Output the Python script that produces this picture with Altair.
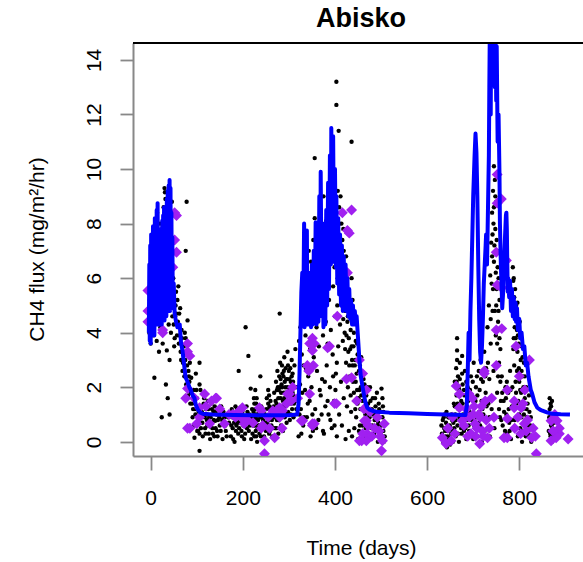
import altair as alt
import pandas as pd

# ---------------- data ----------------
# tick values
x_ticks = [0, 200, 400, 600, 800]
y_ticks = [0, 2, 4, 6, 8, 10, 12, 14]
title_text = ["Abisko"]

# black observation points (day, flux)
black_s1_peak = [(-3,4.0),(-2,5.2),(-1,6.1),(0,3.6),(1,7.0),(2,4.6),(3,5.5),(4,6.4),(5,3.9),(6,7.6),
    (7,5.0),(8,2.35),(9,6.8),(10,4.4),(11,7.9),(12,5.8),(13,3.7),(14,8.4),(15,6.3),(16,4.9),(17,7.2),
    (18,3.3),(19,5.6),(20,8.0),(21,4.2),(22,6.9),(24,0.9),(24,5.3),(25,7.8),(26,3.6),(27,6.0),(28,8.6),
    (29,4.6),(30,9.3),(31,9.15),(32,8.9),(33,2.1),(33,5.1),(34,7.4),(35,3.35),(36,6.5),(37,1.6),(38,8.2),
    (39,4.3),(40,9.0),(41,1.0),(41,3.0),(42,5.8),(43,7.6),(44,4.0),(45,6.8),(46,8.8),(47,4.6),(48,5.4),
    (50,4.3),(52,3.8),(54,5.0),(56,4.7),(58,5.2)]
black_s1_fall = [(62,4.7),(63,3.9),(65,3.3),(67,4.1),(70,2.9),(72,3.5),(74,4.0),(76,3.8),(76,7.0),(78,8.8),
    (80,4.45),(80,3.35),(82,2.6),(84,2.2),(85,2.9),(87,1.8),(88,2.35),(90,1.4),(91,0.9),(93,1.9),(95,0.15),
    (96,1.2),(98,2.5),(98,0.65),(100,1.6),(102,0.9),(104,1.1),(106,2.9),(106,2.1),(106,0.3),(106,-0.33),
    (108,1.9),(110,1.3),(112,0.7),(114,1.0),(116,1.6),(118,0.5),(120,1.2),(122,0.8),(124,1.5),(126,0.3),
    (128,1.5),(130,0.9),(132,1.4),(134,0.5),(136,1.1),(138,0.2),(140,0.77),(142,1.14),(144,0.4),(146,0.8),
    (49,6.0),(51,3.5),(53,4.6),(55,5.5),(57,3.9),(59,4.4),(60,5.7),(61,3.6),(64,4.9),(66,3.0),(68,3.8),
    (69,2.6),(71,3.2),(73,2.4),(75,3.0),(77,2.1),(79,2.8),(81,1.7),(83,2.4),(86,1.4),(89,1.9),(92,1.2),
    (94,0.6),(97,1.0),(99,1.9),(103,0.4)]
black_trough = [(150,0.6),(153,1.3),(156,0.1),(160,0.9),(163,0.4),(166,1.0),(170,0.7),(174,0.2),(176,1.2),
    (178,0.5),(180,0.9),(182,0.0),(184,1.3),(186,0.6),(188,1.0),(190,0.3),(191,2.6),(193,0.8),(195,1.2),
    (197,0.4),(200,0.9),(203,0.1),(206,4.2),(207,0.7),(210,1.1),(212,3.15),(213,0.4),(216,0.8),(217,1.95),
    (218,0.1),(220,1.2),(222,0.6),(224,1.6),(225,0.2),(226,1.0),(227,1.9),(228,0.4),(229,1.4),(230,0.8),
    (231,0.0),(232,1.2),(234,0.6),(236,0.3),(238,2.4),(238,0.9),(240,1.3),(242,0.5),(244,0.8),(246,0.2),
    (248,1.0),(250,0.4),(252,1.6),(253,0.7),(255,1.9),(256,1.2),(257,0.3),(258,0.9),(260,1.5),(262,0.6),
    (264,0.2),(266,1.1),(268,1.8),(270,0.5),(272,2.2),(273,1.4),(274,0.8),(275,2.6),(276,1.2),(277,0.3),
    (278,1.9),(279,2.4),(280,4.7),(280,1.0),(281,2.9),(282,1.6),(283,0.6),(284,2.1),(285,2.8),(286,1.3),
    (287,0.4),(288,2.4),(289,1.8),(290,3.1),(291,0.9),(292,2.0),(293,2.7),(294,1.5),(295,0.7),(296,2.3),
    (297,3.3),(298,1.1),(300,2.6),(301,1.9),(302,0.8),(304,2.2),(305,1.4),(306,3.0),(308,2.5),(310,1.7),
    (312,2.8),(314,3.4),(316,1.2),(318,2.0)]
black_trough_more = [(101,0.4),(103,1.3),(105,0.8),(109,0.5),(111,1.1),(113,0.2),(115,1.4),(117,0.9),
    (119,0.3),(121,1.0),(123,0.6),(125,1.2),(127,0.9),(129,0.1),(131,0.7),(133,1.2),(135,0.3),(137,0.8),
    (139,1.3),(141,0.5),(143,1.0),(145,0.2),(147,1.2),(149,0.9),(152,0.4),(155,0.8),(158,1.1),(162,0.6),
    (165,0.2),(168,0.9),(172,1.1),(175,0.6),(177,0.9),(179,0.1),(181,0.7),(183,1.0),(185,0.4),(187,1.2),
    (189,0.7),(192,0.5),(194,1.0),(196,0.7),(198,0.2),(199,1.1),(201,0.6),(204,0.9),(205,0.3),(208,1.3),
    (209,0.5),(211,0.8),(214,1.0),(215,0.6),(219,0.9),(221,0.3),(223,1.1),(225,1.4),(226,0.6),(227,1.2),
    (228,0.9),(229,0.2),(230,1.6),(231,1.0),(232,0.5),(233,0.8),(235,1.1),(237,0.6),(239,0.2),(241,0.9),
    (243,1.1),(245,0.6),(247,1.0),(249,0.7),(251,1.2),(254,0.5),(255,1.4),(256,0.8),(257,1.7),(258,1.3),
    (259,0.4),(261,1.0),(263,0.8),(265,0.5),(267,1.3),(269,0.9),(271,1.5),(273,0.5),(274,1.9),(275,1.0),
    (276,2.0),(277,1.6),(278,0.8),(279,1.3),(280,2.0),(281,1.2),(282,2.3),(283,1.8),(284,1.0),(285,2.0),
    (286,2.5),(287,1.5),(288,1.1),(289,2.6),(290,1.6),(291,2.2),(292,1.3),(293,1.8),(294,2.3),(295,1.1),
    (296,1.7),(297,2.0),(298,2.8),(299,1.4),(300,1.0),(301,2.3),(302,1.5),(303,2.7),(304,1.0),(305,1.9),
    (306,2.4),(307,1.2),(308,1.8),(309,2.2),(310,0.9),(311,1.4),(313,2.0),(315,1.5)]
black_s2 = [(322,3.7),(324,2.1),(325,4.2),(326,1.2),(328,3.2),(330,4.6),(331,0.6),(332,2.8),(334,5.5),
    (335,1.9),(336,3.9),(338,6.2),(339,0.9),(340,4.8),(342,2.4),(343,7.0),(344,5.6),(345,1.5),(346,3.4),
    (348,6.6),(349,2.0),(350,4.9),(352,0.4),(353,7.4),(354,3.1),(355,5.8),(356,10.4),(356,8.2),(357,1.2),
    (358,6.8),(360,4.2),(361,2.6),(362,7.9),(363,5.1),(364,0.8),(365,3.5),(366,6.3),(368,8.4),(369,1.7),
    (370,4.7),(371,5.9),(372,2.3),(373,7.2),(374,3.9),(375,9.0),(376,0.3),(377,5.4),(378,6.9),(379,1.3),
    (380,4.4),(381,8.1),(382,2.8),(383,6.0),(384,3.6),(385,7.5),(386,1.0),(387,5.2),(388,9.4),(389,2.0),
    (390,6.6),(391,4.1),(392,8.6),(393,0.5),(394,7.0),(395,3.2),(396,5.7),(397,9.6),(398,1.5),(399,6.4),
    (400,4.6),(401,8.9),(402,2.5),(403,13.2),(403,12.35),(403,7.7),(404,0.2),(405,5.0),(406,9.2),(407,3.5),
    (408,11.4),(408,6.9),(409,1.0),(410,8.0),(411,4.3),(412,7.2),(413,2.2),(414,5.6),(415,0.6),(416,6.5),
    (417,3.7),(418,7.8),(419,1.6),(420,5.2),(421,4.0),(422,6.1),(423,0.1),(424,2.9),(425,5.5),(426,1.3),
    (428,4.6),(429,3.3),(430,0.4),(431,5.0),(432,2.4),(434,4.1),(435,1.1),(436,11.0),(436,3.5),(437,0.2),
    (438,2.8),(440,4.5),(441,1.8),(442,0.5),(444,3.0),(445,2.2),(446,0.9),(448,3.6),(449,1.4),(450,0.1),
    (452,2.6),(453,1.9),(454,0.6),(456,2.0),(457,3.1),(458,0.3),(460,1.5),(461,0.0),(462,2.3),(464,0.8),
    (465,1.2),(466,0.2),(468,1.7),(470,0.5)]
black_s2_more = [(321,0.2),(323,1.0),(327,0.3),(329,1.8),(333,0.9),(337,2.7),(341,1.4),(347,0.2),(351,1.0),
    (359,0.5),(367,1.9),(371,1.0),(374,0.4),(378,2.2),(384,1.5),(390,0.8),(396,2.4),(399,0.6),(401,1.9),
    (404,2.9),(406,6.0),(407,7.5),(409,8.6),(410,5.8),(411,7.0),(412,9.0),(413,6.2),(414,8.0),(415,5.0),
    (416,7.4),(417,6.0),(418,4.5),(419,7.0),(420,6.3),(421,5.5),(422,3.4),(423,4.8),(424,6.8),(425,3.9),
    (426,5.9),(427,4.4),(428,2.0),(429,5.3),(430,3.8),(431,2.8),(432,4.9),(433,3.4),(434,1.7),(435,4.6),
    (436,6.0),(437,3.0),(438,5.2),(439,2.2),(440,3.5),(441,4.0),(443,2.8),(444,1.2),(445,3.7),(447,2.5),
    (448,1.9),(449,3.2),(451,1.6),(452,0.4),(454,2.8),(455,1.2),(456,0.0),(457,1.7),(459,2.5),(460,0.6),
    (462,1.2),(463,0.3),(464,2.1),(466,1.0),(467,0.5),(469,1.3),(470,2.0),(471,0.2),(473,0.9),(477,1.5),
    (479,0.5),(483,1.0),(485,0.3),(487,1.6),(492,0.6),(496,1.2),(499,0.3),(503,1.6),(505,1.1),(507,0.7),
    (508,0.2)]
black_s2_tail = [(472,1.4),(474,0.3),(475,0.9),(476,2.0),(478,0.1),(480,1.2),(481,0.6),(482,1.6),(484,0.2),
    (486,0.8),(488,1.3),(489,0.4),(490,1.0),(491,1.8),(493,0.0),(494,0.7),(495,1.4),(497,0.3),(498,1.1),
    (500,0.6),(501,1.95),(502,0.2),(503,0.9),(504,1.3),(505,0.4),(506,0.0)]
black_s3_early = [(632,0.3),(634,0.8),(635,0.0),(637,0.5),(638,1.0),(640,0.2),(641,0.7),(643,-0.2),(644,0.4),
    (646,0.9),(647,0.1),(649,0.6),(650,-0.1),(652,0.3),(654,0.8),(656,0.0),(658,1.4),(659,0.5),(660,2.2),
    (661,1.0),(662,0.2),(663,2.7),(664,1.7),(665,3.8),(665,3.35),(665,3.0),(666,0.6),(667,2.4),(668,1.2),
    (669,0.0),(670,1.9),(671,2.9),(672,0.8),(674,1.5),(675,0.3),(676,3.15),(677,2.1),(678,1.0),(680,0.4),
    (681,1.7),(682,2.6),(684,0.9),(685,0.1),(686,1.3),(688,2.0),(690,0.6)]
black_s3_peak = [(692,1.1),(694,0.3),(695,2.4),(697,0.8),(698,1.6),(700,0.1),(701,2.9),(703,1.3),(704,0.5),
    (706,2.0),(707,0.9),(709,1.7),(710,0.2),(712,2.6),(713,1.1),(715,0.6),(716,3.0),(718,1.5),(719,0.0),
    (721,2.2),(722,1.0),(724,3.3),(725,0.4),(727,1.8),(728,2.7),(730,0.8),(731,4.2),(733,1.4),(734,5.0),
    (735,2.3),(736,0.2),(737,6.1),(738,3.6),(739,7.3),(740,1.2),(741,8.4),(742,4.8),(743,9.2),(744,2.6),
    (745,10.1),(745,6.6),(746,0.5),(747,9.6),(748,7.8),(749,3.9),(750,8.8),(751,5.6),(752,1.8),(753,7.0),
    (754,4.4),(755,6.0),(756,2.9),(757,5.2),(758,0.9),(759,3.4),(760,1.5)]
black_s3_fall = [(762,2.4),(764,0.6),(766,1.5),(768,0.2),(770,2.0),(772,1.0),(774,0.3),(776,1.8),(778,0.7),
    (780,2.6),(782,0.1),(784,1.3),(786,6.4),(787,5.9),(788,3.8),(789,5.3),(790,0.8),(791,4.6),(792,2.2),
    (793,5.0),(794,1.4),(795,4.1),(796,3.3),(797,0.2),(798,4.5),(799,2.7),(800,1.0),(801,3.9),(802,0.5),
    (803,3.0),(804,1.8),(805,3.5),(806,0.0),(807,2.4),(808,1.2),(810,2.9),(811,0.6),(812,1.6),(814,0.2),
    (815,2.0),(817,0.9),(818,1.4),(820,0.3),(822,1.1),(824,0.6),(826,0.0),
    (864,0.4),(866,1.6),(866,1.2),(867,0.8),(868,0.2),(868,1.4),(869,0.6),(870,1.0),(871,0.0),(872,0.5),
    (874,0.9),(876,0.3)]
black_s3_more = [(631,0.6),(633,0.1),(636,0.9),(639,0.4),(642,1.1),(645,0.2),(648,0.9),(651,0.5),(653,1.0),
    (655,0.4),(657,0.7),(660,1.3),(662,0.8),(664,2.2),(666,1.4),(667,0.3),(668,2.0),(670,0.9),(671,2.3),
    (673,1.3),(674,0.5),(676,2.5),(677,1.4),(679,0.7),(680,1.9),(682,1.2),(683,0.5),(685,2.2),(687,0.8),
    (689,1.5),(691,0.4),(693,1.9),(696,0.9),(699,2.2),(702,0.6),(705,1.5),(708,2.4),(711,0.7),(714,1.9),
    (717,2.3),(720,1.2),(723,0.2),(726,2.4),(729,1.3),(732,2.9),(735,0.9),(738,4.5),(740,5.8),(741,6.8),
    (742,7.6),(743,5.6),(744,8.0),(745,8.6),(746,7.2),(747,4.8),(748,9.0),(749,6.2),(750,5.0),(751,7.4),
    (752,3.6),(753,6.4),(754,2.4),(755,4.8),(756,1.2),(757,3.8),(759,2.2),(761,0.8),(763,1.8),(767,1.1),
    (769,0.4),(771,1.6),(773,2.2),(775,0.8),(777,1.2),(779,0.4),(781,1.9),(783,0.8),(785,2.0),(786,4.9),
    (787,3.4),(788,6.0),(789,2.8),(790,4.2),(791,5.6),(792,3.8),(793,1.8),(794,4.8),(795,2.6),(796,5.1),
    (797,3.9),(798,1.5),(799,3.6),(800,2.2),(801,4.4),(802,1.9),(803,3.8),(804,0.9),(805,2.6),(806,1.3),
    (807,3.1),(808,0.4),(809,2.0),(810,1.0),(812,2.4),(813,0.8),(816,1.2),(819,0.6),(821,1.7),(823,0.2),
    (825,0.9),(865,0.9),(867,0.3),(869,1.3),(870,0.6),(871,1.5),(873,0.2),(875,0.7)]

# purple diamonds (day, flux)
purple_s1 = [(-6,4.8),(-6,5.55),(-6,4.4),(26,4.0),(26,4.1),(48,6.4),(52,8.4),(52,7.4),(56,8.3),(56,6.95),
    (80,3.6),(80,3.3),(85,3.15),(76,1.6),(80,1.95),(95,1.6),(117,1.75),(141,1.6),(143,1.6),(85,0.5),(80,0.5),
    (106,0.9),(106,1.25),(100,0.66),(128,0.66),(160,0.66),(184,0.9),(186,1.03),(199,0.85),(199,1.25),
    (193,1.14),(178,1.0),(203,0.66),(236,1.25),(240,1.14),(240,0.5),(243,0.6),(247,0.04),(247,-0.44),
    (265,1.14),(269,0.15),(273,1.14),(280,1.25),(280,0.9),(285,0.5),(286,1.14),(295,1.4),(297,1.75),
    (301,1.75),(305,1.5),(308,2.0),(319,1.6),(120,1.3),(132,1.5),(150,1.2),(170,1.0),(210,0.8),(222,0.7),
    (255,0.9),(258,0.5)]
purple_s2 = [(327,0.77),(330,0.77),(340,2.8),(345,3.6),(345,1.75),(343,2.6),(351,3.8),(355,3.6),(351,3.35),
    (353,2.8),(351,0.66),(351,0.6),(355,0.66),(384,3.45),(388,3.5),(399,1.4),(403,1.4),(405,4.6),(416,8.4),
    (427,7.75),(425,2.3),(431,7.65),(436,8.5),(427,6.2),(436,2.35),(447,1.5),(453,3.0),(453,0.04),(460,2.5),
    (464,0.77),(468,1.9),(468,0.77),(468,0.04),(470,0.3),(496,0.4),(501,-0.33),(503,0.04),(507,0.66),
    (458,0.04),(460,0.3),(463,1.2),(472,0.6),(476,1.1),(480,0.2),(486,0.5),(492,0.9),(498,0.2)]
purple_s3 = [(633,0.15),(641,-0.07),(652,0.04),(663,2.05),(670,1.25),(670,1.75),(676,0.77),(691,1.75),
    (691,0.9),(698,1.6),(704,0.66),(714,-0.07),(715,0.9),(724,2.6),(724,2.5),(731,0.15),(750,4.1),(750,2.8),
    (752,5.75),(750,6.95),(752,8.75),(752,9.8),(761,8.9),(762,5.65),(762,4.15),(767,0.15),(772,6.65),
    (774,1.9),(774,0.85),(774,0.15),(789,1.5),(789,1.25),(793,3.5),(800,2.4),(804,1.25),(808,1.4),
    (811,0.66),(815,0.4),(822,3.0),(827,0.15),(837,-0.44),(869,0.77),(869,0.04),(880,0.15),(887,0.3),
    (887,0.5),(882,0.77),(906,0.1),(695,0.3),(700,1.0),(705,0.2),(718,1.3),(720,0.4),(728,0.8),
    (645,0.5),(655,0.9),(660,0.3),(680,0.6),(685,1.2),(688,0.2),(702,1.3),(708,0.5),(712,1.0),(722,0.2),
    (726,1.5),(735,0.5),(740,1.6),(745,0.9),(790,0.5),(797,0.9),(803,0.3),(812,1.9),(818,0.8),(830,0.5),
    (835,0.2),(873,0.4),(877,1.0)]

# blue model line (day, flux), in drawing order
model_s1 = [(-4,4.0),(-3,6.5),(-2,3.7),(-1,7.2),(0,3.6),(1,7.6),(2,4.4),(3,6.8),(4,4.0),(5,7.9),(6,4.6),
    (7,7.4),(8,3.9),(9,8.2),(10,4.5),(11,7.0),(12,4.3),(13,8.5),(14,5.0),(15,8.75),(16,4.8),(17,7.2),
    (18,4.3),(19,6.9),(20,4.4),(21,7.5),(22,4.6),(23,7.8),(24,4.3),(25,8.1),(26,4.5),(27,8.3),(28,4.6),
    (29,8.6),(30,4.45),(31,7.6),(32,4.8),(33,8.0),(34,4.6),(35,8.9),(36,4.8),(37,9.2),(38,4.9),(39,9.4),
    (40,5.0),(41,9.6),(42,4.8),(43,9.3),(44,5.2),(45,8.4),(46,4.9),(47,7.5),(48,5.2),(50,5.8),(52,4.7),
    (55,4.4),(58,4.2),(63,4.3),(66,3.6),(69,3.35),(72,2.9),(76,2.35),(80,2.2),(84,2.0),(87,1.9),(91,1.7),
    (95,1.6),(98,1.35),(102,1.2),(107,1.08),(113,1.03),(134,1.0),(180,0.98),(250,0.97),(300,0.97)]
model_s2 = [(318,1.0),(321,1.4),(323,2.5),(325,4.0),(327,5.5),(329,6.2),(331,4.5),(333,8.0),(334,4.2),
    (336,7.6),(337,4.3),(339,7.75),(340,4.3),(342,5.5),(344,4.3),(346,6.2),(348,4.2),(350,6.5),(352,4.3),
    (354,7.0),(356,4.4),(358,8.05),(360,4.3),(362,7.0),(364,4.4),(366,9.0),(368,4.6),(369,9.9),(371,5.4),
    (373,7.2),(375,4.2),(377,8.0),(379,4.3),(381,8.5),(383,5.0),(385,9.5),(387,5.6),(389,10.5),(391,6.5),
    (392,11.5),(394,7.0),(396,11.2),(398,6.6),(400,10.0),(402,6.4),(403,9.0),(405,5.8),(407,8.2),(409,5.4),
    (411,7.6),(413,5.0),(415,7.2),(417,4.8),(419,6.8),(421,5.2),(423,6.5),(425,4.8),(427,6.0),(429,4.6),
    (431,5.6),(433,4.5),(435,5.2),(437,4.3),(439,5.0),(441,4.3),(443,4.8),(445,4.4),(447,4.6),(450,3.8),
    (453,3.0),(456,2.4),(460,2.0),(463,1.7),(466,1.45),(470,1.25),(475,1.18),(481,1.14),(490,1.1),
    (518,1.07),(560,1.05),(600,1.02),(640,1.0),(683,0.98)]
model_s3 = [(686,1.3),(688,2.5),(690,4.0),(692,3.0),(694,4.8),(696,6.0),(698,7.5),(700,9.0),(703,10.5),
    (705,11.3),(707,10.6),(709,9.0),(711,6.5),(713,4.5),(715,3.3),(717,2.9),(719,3.5),(721,4.5),(723,5.8),
    (725,6.5),(727,7.2),(728,7.6),(730,6.5),(732,8.5),(734,10.5),(735,13.0),(736,15.0),(738,12.0),(739,15.5),
    (741,13.5),(742,15.5),(744,14.0),(745,15.5),(747,13.0),(748,15.5),(750,12.5),(751,14.5),(753,11.0),
    (755,12.0),(757,9.85),(758,8.0),(760,6.5),(762,5.5),(763,4.9),(765,5.5),(767,6.5),(769,7.5),(771,8.3),
    (772,8.4),(773,7.8),(774,6.5),(775,5.5),(776,6.0),(778,5.3),(780,5.9),(782,4.8),(784,5.6),(786,4.6),
    (788,5.3),(790,4.5),(792,5.1),(793,4.4),(795,4.9),(797,4.1),(800,4.5),(802,3.8),(805,4.0),(808,3.4),
    (811,3.5),(814,2.8),(817,2.9),(820,2.4),(822,2.2),(825,1.9),(828,1.76),(833,1.45),(839,1.25),
    (845,1.18),(850,1.14),(860,1.08),(871,1.03),(890,1.01),(910,1.0)]

# ---------------- tables ----------------
black = pd.DataFrame(black_s1_peak + black_s1_fall + black_trough + black_trough_more + black_s2
                     + black_s2_more + black_s2_tail + black_s3_early + black_s3_peak + black_s3_fall
                     + black_s3_more, columns=["day", "flux"])
purple = pd.DataFrame(purple_s1 + purple_s2 + purple_s3, columns=["day", "flux"])
model = pd.DataFrame(model_s1 + model_s2 + model_s3, columns=["day", "flux"])
model["i"] = range(len(model))

FONT = "Liberation Sans"
W, H = 450, 413
xscale = alt.Scale(domain=[-38.4, 938.3], nice=False, zero=False)
yscale = alt.Scale(domain=[-0.52, 14.62], nice=False, zero=False)

xaxis = alt.Axis(values=x_ticks, title="Time (days)", grid=False, tickSize=14, tickWidth=1.8,
                 domainWidth=2, labelPadding=34, labelBaseline="alphabetic", labelFontSize=21,
                 titleFontSize=21, titleFontWeight="normal", titleX=228, titleY=98,
                 titleBaseline="alphabetic", titleAlign="center", labelFlush=False)
yaxis = alt.Axis(values=y_ticks, title="CH4 flux (mg/m²/hr)", grid=False, tickSize=13, tickWidth=1.8,
                 domainWidth=2, labelPadding=20, labelAngle=270, labelAlign="center",
                 labelBaseline="alphabetic", labelFontSize=21, titleFontSize=21,
                 titleFontWeight="normal", titleAngle=270, titleX=-90, titleY=206,
                 titleBaseline="alphabetic", titleAlign="center", labelFlush=False)

x_enc = alt.X("day:Q", scale=xscale, axis=xaxis)
y_enc = alt.Y("flux:Q", scale=yscale, axis=yaxis)

pts = alt.Chart(black).mark_point(filled=True, shape="circle", size=19, color="black",
                                  opacity=1, clip=True).encode(x=x_enc, y=y_enc)
dia = alt.Chart(purple).mark_point(filled=True, shape="diamond", size=120, color="#A020F0",
                                   opacity=1, clip=True).encode(x=x_enc, y=y_enc)
line = alt.Chart(model).mark_line(color="#0000FF", strokeWidth=4, clip=True,
                                  strokeJoin="round").encode(x=x_enc, y=y_enc, order="i:Q")
top = alt.Chart(pd.DataFrame({"a": [0]})).mark_rule(color="black", strokeWidth=2).encode(
    x=alt.value(0), x2=alt.value(W), y=alt.value(0))
title = alt.Chart(pd.DataFrame({"t": title_text})).mark_text(
    font=FONT, fontSize=27, fontWeight="bold", baseline="alphabetic", align="center", color="black"
).encode(text="t:N", x=alt.value(228), y=alt.value(-16))

chart = alt.layer(pts, dia, line, top, title).properties(
    width=W, height=H,
    autosize=alt.AutoSizeParams(type="none"),
    padding={"left": 133, "top": 43, "right": 0, "bottom": 106},
).configure_view(stroke=None).configure_axis(
    labelFont=FONT, titleFont=FONT, labelColor="black", titleColor="black",
    domainColor="black", tickColor="black"
).configure(background="white")

chart.save("out.html", embed_options={"renderer": "svg", "actions": False})
